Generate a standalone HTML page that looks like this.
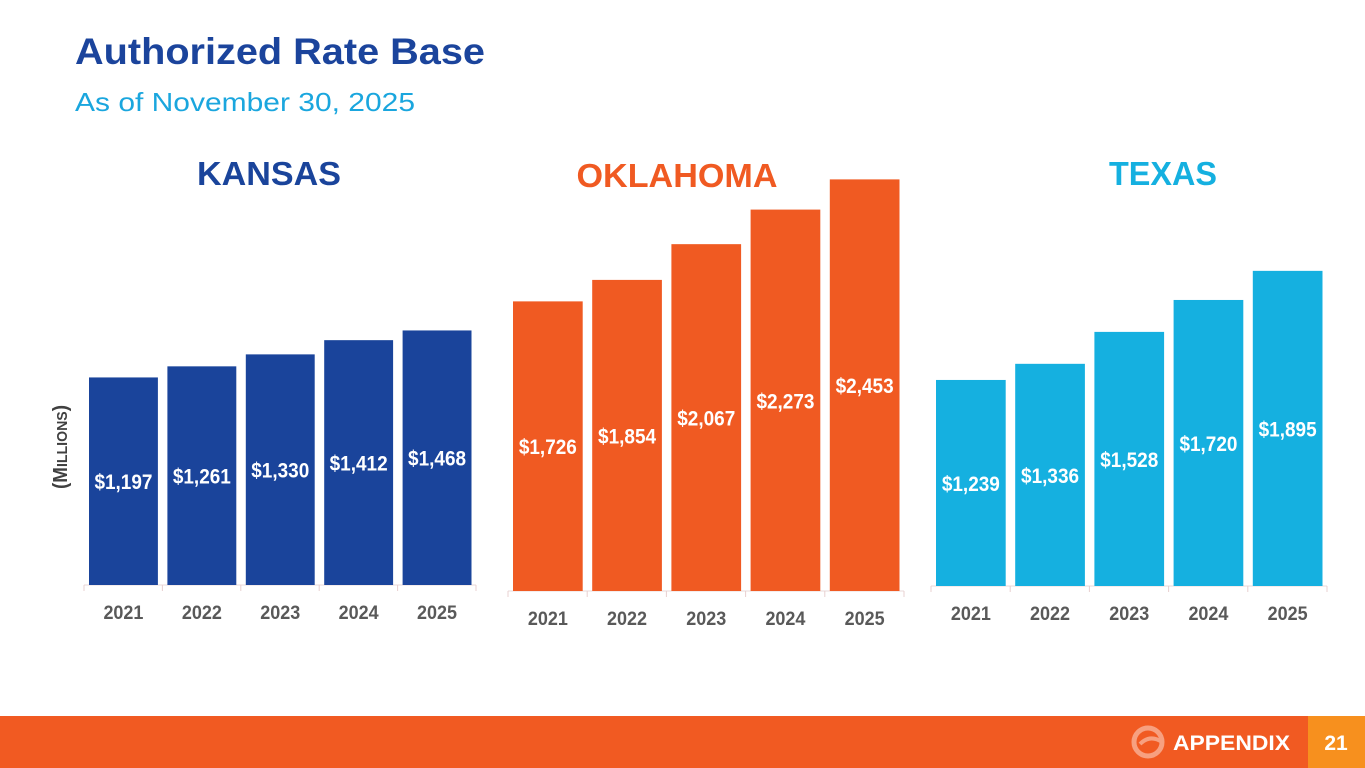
<!DOCTYPE html>
<html><head><meta charset="utf-8"><style>
html,body{margin:0;padding:0;width:1365px;height:768px;overflow:hidden;background:#fff;font-family:"Liberation Sans",sans-serif}
svg{position:absolute;left:0;top:0}
</style></head><body>
<svg id="s" width="1365" height="768">
<text x="75" y="64" font-size="37" font-weight="bold" fill="#1b449c" textLength="410" lengthAdjust="spacingAndGlyphs">Authorized Rate Base</text>
<text x="75" y="111" font-size="26" fill="#1aa6de" textLength="340" lengthAdjust="spacingAndGlyphs">As of November 30, 2025</text>
<text x="67" y="447" font-size="20" font-weight="bold" fill="#404040" transform="rotate(-90 67 447)" text-anchor="middle" textLength="84" lengthAdjust="spacingAndGlyphs">(M<tspan font-size="15">ILLIONS</tspan>)</text>
<rect x="0" y="716" width="1365" height="52" fill="#f15a22"/>
<rect x="1308" y="716" width="57" height="52" fill="#f7901e"/>
<g opacity="0.6"><circle cx="1148" cy="742" r="14" fill="none" stroke="#fbd0bf" stroke-width="5"/><path d="M1140 744 q10 -10 22 -2" stroke="#fbd0bf" stroke-width="4" fill="none"/></g>
<text x="1173" y="750" font-size="21" font-weight="bold" fill="#fff" textLength="117" lengthAdjust="spacingAndGlyphs">APPENDIX</text>
<text x="1336" y="750" font-size="21" font-weight="bold" fill="#fff" text-anchor="middle">21</text>
</svg>
<script>
const years=["2021","2022","2023","2024","2025"];
const kansasValues=[1197,1261,1330,1412,1468];
const oklahomaValues=[1726,1854,2067,2273,2453];
const texasValues=[1239,1336,1528,1720,1895];
const stateNames=["KANSAS","OKLAHOMA","TEXAS"];
const svg=document.getElementById('s');
const NS='http://www.w3.org/2000/svg';
function mk(t,a){const e=document.createElementNS(NS,t);for(const k in a)e.setAttribute(k,a[k]);svg.appendChild(e);return e;}
const panels=[
 {name:stateNames[0],vals:kansasValues,x0:84,slot:78.4,base:585,scale:0.1734,color:"#1a449b",hx:269,hy:185,hw:144},
 {name:stateNames[1],vals:oklahomaValues,x0:508,slot:79.2,base:591,scale:0.1678,color:"#f05a22",hx:677,hy:187,hw:201},
 {name:stateNames[2],vals:texasValues,x0:931,slot:79.2,base:586,scale:0.1663,color:"#15b0e0",hx:1163,hy:185,hw:108}
];
panels.forEach(p=>{
 const h=mk('text',{x:p.hx,y:p.hy,'font-size':33,'font-weight':'bold',fill:p.color,'text-anchor':'middle',textLength:p.hw,lengthAdjust:'spacingAndGlyphs'});
 
 
 h.textContent=p.name;
 const ax=mk('line',{x1:p.x0,x2:p.x0+p.slot*5,y1:p.base,y2:p.base,stroke:'#e8d8d8','stroke-width':1});
 
 
 p.vals.forEach((v,i)=>{
  const xs=p.x0+p.slot*i, bw=p.slot-9.5, bx=xs+5;
  const bh=v*p.scale, top=p.base-bh;
  const tk=mk('line',{x1:xs,x2:xs,y1:p.base,y2:p.base+6,stroke:'#e8d0d0','stroke-width':1});
  
  
  const r=mk('rect',{x:bx,y:top,width:bw,height:bh,fill:p.color});
  
  
  const t=mk('text',{x:bx+bw/2,y:(top+p.base)/2+8,'font-size':21,'font-weight':'bold',fill:'#fff','text-anchor':'middle',textLength:58,lengthAdjust:'spacingAndGlyphs'});
  
  
  t.textContent='$'+v.toLocaleString('en-US');
  const y=mk('text',{x:bx+bw/2,y:p.base+34,'font-size':19,'font-weight':'bold',fill:'#595959','text-anchor':'middle',textLength:40,lengthAdjust:'spacingAndGlyphs'});
  
  
  y.textContent=years[i];
 });
 const endTk=mk('line',{x1:p.x0+p.slot*5,x2:p.x0+p.slot*5,y1:p.base,y2:p.base+6,stroke:'#e8d0d0','stroke-width':1});
 
 
});
</script>
</body></html>
